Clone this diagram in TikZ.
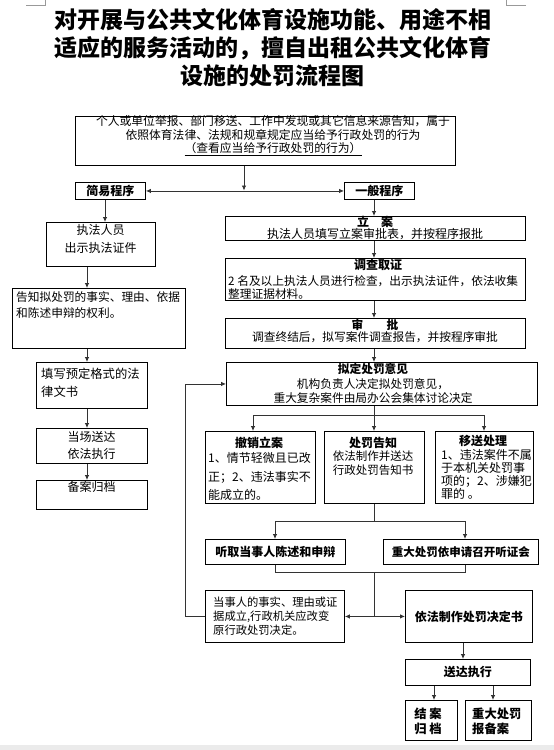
\documentclass[tikz,border=0pt]{standalone}
\usepackage{fontspec}
\setmainfont{Noto Sans CJK SC}
\usetikzlibrary{arrows.meta,calc}
\newcommand\fs[2]{\fontsize{#1}{#2}\selectfont}
\tikzset{
 bx/.style={draw=black,line width=0.9pt,inner sep=0pt,anchor=north west},
 ln/.style={draw=black!80,line width=0.8pt},
 ar/.style={ln,-{Latex[length=5pt,width=4.5pt]}},
 dar/.style={ln,{Latex[length=5pt,width=4.5pt]}-{Latex[length=5pt,width=4.5pt]}},
 tt/.style={inner sep=0pt,font=\fs{12}{14}},
 hd/.style={inner sep=0pt,font=\fs{12}{14}\bfseries},
}
\begin{document}
\begin{tikzpicture}[x=1pt,y=-1pt]
\useasboundingbox (0,0) rectangle (554,750);
\fill[white] (0,0) rectangle (554,750);
\fill[black!8] (0,745) rectangle (554,750);
\draw[black!40,line width=0.5pt] (26,5) -- (45,5) -- (45,0);
\draw[black!40,line width=0.5pt] (526,5) -- (506,5) -- (506,0);

% title
\node[inner sep=0pt,align=center,font=\fs{23}{28.3}\bfseries] (title) at (272.5,47.7)
 {对开展与公共文化体育设施功能、用途不相\\适应的服务活动的，擅自出租公共文化体育\\设施的处罚流程图};

% boxes
\node[bx,minimum width=380pt,minimum height=49pt] (top) at (75,116) {};
\node[bx,minimum width=70pt,minimum height=17pt] (jy) at (75,182) {};
\node[bx,minimum width=70pt,minimum height=17pt] (yb) at (344,182) {};
\node[bx,minimum width=109pt,minimum height=44pt] (zf) at (46,222) {};
\node[bx,minimum width=173pt,minimum height=60pt] (gz) at (12,288) {};
\node[bx,minimum width=111pt,minimum height=46pt] (tx) at (36,362) {};
\node[bx,minimum width=111pt,minimum height=35pt] (dc) at (36,428) {};
\node[bx,minimum width=111pt,minimum height=29pt] (ba) at (36,480) {};
\node[bx,minimum width=300pt,minimum height=24pt] (la) at (225,216) {};
\node[bx,minimum width=300pt,minimum height=42pt] (dq) at (225,258) {};
\node[bx,minimum width=300pt,minimum height=30pt] (sp) at (225,318) {};
\node[bx,minimum width=311pt,minimum height=43pt] (nd) at (226,362) {};
\node[bx,minimum width=110pt,minimum height=72pt] (cx) at (205,431) {};
\node[bx,minimum width=100pt,minimum height=72pt] (cf) at (324,431) {};
\node[bx,minimum width=98pt,minimum height=72pt] (ys) at (435,431) {};
\node[bx,minimum width=140pt,minimum height=25pt] (tq) at (205,539) {};
\node[bx,minimum width=155pt,minimum height=25pt] (zd) at (383,539) {};
\node[bx,minimum width=139pt,minimum height=52pt] (ds) at (205,590) {};
\node[bx,minimum width=127pt,minimum height=52pt] (yf) at (405,590) {};
\node[bx,minimum width=125pt,minimum height=26pt] (sd) at (405,659) {};
\node[bx,minimum width=52pt,minimum height=40pt] (ja) at (405,700) {};
\node[bx,minimum width=66pt,minimum height=40pt] (zb) at (465,700) {};

% texts
\node[tt,align=center,font=\fs{11.8}{13.5}] (topT) at (273,135.7)
 {个人或单位举报、部门移送、工作中发现或其它信息来源告知，属于\\依照体育法律、法规和规章规定应当给予行政处罚的行为\\\underline{（查看应当给予行政处罚的行为）}};
\node[hd] (jyT) at (jy.center) {简易程序};
\node[hd] (ybT) at (yb.center) {一般程序};
\node[tt,align=center,font=\fs{12}{18}] (zfT) at (100.5,239) {执法人员\\出示执法证件};
\node[tt,align=left,anchor=west,font=\fs{11.7}{16.5}] (gzT) at (16,305) {告知拟处罚的事实、理由、依据\\和陈述申辩的权利。};
\node[tt,align=left,anchor=west,font=\fs{12.3}{18}] (txT) at (41,383) {填写预定格式的法\\律文书};
\node[tt,align=center,font=\fs{12}{17}] (dcT) at (91.5,445.5) {当场送达\\依法执行};
\node[tt] (baT) at (91.5,487) {备案归档};

\node[tt,align=center,font=\fs{12}{12.5}] (laT) at (375,228) {\textbf{立　案}\\执法人员填写立案审批表，并按程序报批};
\node[hd] (dqH) at (378,265) {调查取证};
\node[tt,align=left,anchor=west,font=\fs{11.7}{13.5}] (dqT) at (228,287.5) {2 名及以上执法人员进行检查，出示执法证件，依法收集\\整理证据材料。};
\node[tt,align=center,font=\fs{11.7}{12.5}] (spT) at (375,331) {\textbf{审　　批}\\调查终结后，拟写案件调查报告，并按程序审批};
\node[tt,align=center,font=\fs{11.7}{14.5}] (ndT) at (373,383.5) {\textbf{拟定处罚意见}\\机构负责人决定拟处罚意见，\\重大复杂案件由局办公会集体讨论决定};
\node[hd] (cxH) at (259,443) {撤销立案};
\node[tt,align=left,anchor=west,font=\fs{12}{18.5}] (cxT) at (208,476.5) {1、情节轻微且已改\\正；2、违法事实不\\能成立的。};
\node[hd] (cfH) at (373,443) {处罚告知};
\node[tt,align=center,font=\fs{11.5}{14}] (cfT) at (373,463) {依法制作并送达\\行政处罚告知书};
\node[hd] (ysH) at (483,441) {移送处理};
\node[tt,align=left,anchor=west,font=\fs{12}{13}] (ysT) at (441,474.5) {1、违法案件不属\\于本机关处罚事\\项的；2、涉嫌犯\\罪的 。};
\node[hd] (tqT) at (tq.center) {听取当事人陈述和申辩};
\node[hd,font=\fs{11.5}{14}\bfseries] (zdT) at (zd.center) {重大处罚依申请召开听证会};
\node[tt,align=left,anchor=west,font=\fs{11.3}{14}] (dsT) at (213,616) {当事人的事实、理由或证\\据成立,行政机关应改变\\原行政处罚决定。};
\node[hd] (yfT) at (yf.center) {依法制作处罚决定书};
\node[hd] (sdT) at (sd.center) {送达执行};
\node[hd,align=center,font=\fs{12.3}{15}\bfseries] (jaT) at (428,721.5) {结 案\\归 档};
\node[hd,align=left,anchor=west,font=\fs{12.3}{15}\bfseries] (zbT) at (472,721.5) {重大处罚\\报备案};

% helper coordinates
\coordinate (s1) at (244,190.5);
\coordinate (cA) at (105,0);
\coordinate (cB) at (87,0);
\coordinate (cC) at (374,0);
\coordinate (cD) at (253,0);
\coordinate (cE) at (484,0);
\coordinate (cF) at (275,0);
\coordinate (cG) at (465,0);
\coordinate (cH) at (185,0);
\coordinate (cI) at (463,0);
\coordinate (cJ) at (434,0);
\coordinate (cK) at (493,0);
\coordinate (r1) at (0,415);
\coordinate (r2) at (0,521);
\coordinate (r3) at (0,572);

% connectors
\draw[ar] (top.south -| s1) -- (s1);
\draw[dar] (jy.east) -- (yb.west);
\draw[ar] (jy.south -| cA) -- (zf.north -| cA);
\draw[ar] (zf.south -| cB) -- (gz.north -| cB);
\draw[ar] (gz.south -| cB) -- (tx.north -| cB);
\draw[ar] (tx.south -| cB) -- (dc.north -| cB);
\draw[ar] (dc.south -| cB) -- (ba.north -| cB);
\draw[ar] (yb.south -| cC) -- (la.north -| cC);
\draw[ar] (la.south -| cC) -- (dq.north -| cC);
\draw[ar] (dq.south -| cC) -- (sp.north -| cC);
\draw[ar] (sp.south -| cC) -- (nd.north -| cC);
\draw[ar] (nd.south -| cC) -- (cf.north -| cC);
\draw[ln] (r1 -| cD) -- (r1 -| cE);
\draw[ar] (r1 -| cD) -- (cx.north -| cD);
\draw[ar] (r1 -| cE) -- (ys.north -| cE);
\draw[ln] (cf.south -| cC) -- (r2 -| cC);
\draw[ln] (r2 -| cF) -- (r2 -| cG);
\draw[ar] (r2 -| cF) -- (tq.north -| cF);
\draw[ar] (r2 -| cG) -- (zd.north -| cG);
\draw[ln] (tq.south -| cF) -- (r3 -| cF) -- (r3 -| cG) -- (zd.south -| cG);
\draw[ln] (r3 -| cC) -- (ds.east -| cC);
\draw[dar] (ds.east) -- (yf.west);
\draw[ar] (ds.west) -- (ds.west -| cH) -- (nd.west -| cH) -- (nd.west);
\draw[ar] (yf.south -| cI) -- (sd.north -| cI);
\draw[ar] (sd.south -| cJ) -- (ja.north -| cJ);
\draw[ar] (sd.south -| cK) -- (zb.north -| cK);
\end{tikzpicture}
\end{document}
